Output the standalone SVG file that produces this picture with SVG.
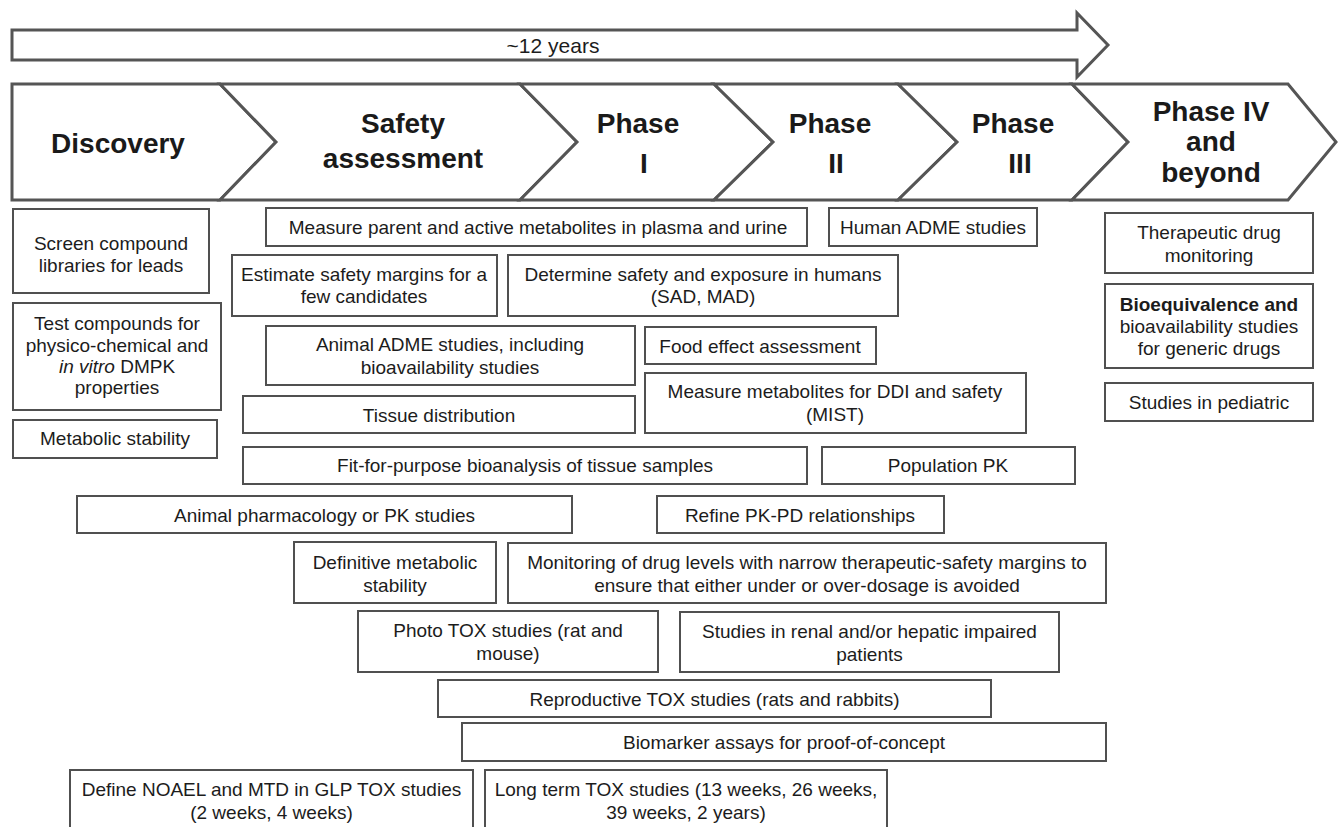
<svg xmlns="http://www.w3.org/2000/svg" width="1338" height="827" viewBox="0 0 1338 827">
<style>
.bg{fill:#ffffff}
.arrow{fill:#ffffff;stroke:#555555;stroke-width:3;stroke-linejoin:miter}
.chev{fill:#ffffff;stroke:#555555;stroke-width:3;stroke-linejoin:miter}
.box{fill:#ffffff;stroke:#505050;stroke-width:2}
.ph{font-family:"Liberation Sans",Arial,sans-serif;font-size:28px;font-weight:bold;fill:#1a1a1a;text-anchor:middle}
.t{font-family:"Liberation Sans",Arial,sans-serif;font-size:19px;fill:#1c1c1c;text-anchor:middle}
.yr{font-family:"Liberation Sans",Arial,sans-serif;font-size:21px;fill:#1c1c1c;text-anchor:middle}
</style>
<rect class="bg" x="0" y="0" width="1338" height="827"/>
<g id="timeline">
<polygon class="arrow" points="12,30 1077,30 1077,13 1108,45 1077,77 1077,60 12,60"/>
<text class="yr" x="553" y="53">~12 years</text>
</g>
<g id="connectors"></g>
<g id="phase-discovery">
<polygon class="chev" points="12,84 220,84 276,142 220,200 12,200"/>
<text class="ph" x="118" y="153">Discovery</text>
</g>
<g id="phase-safety">
<polygon class="chev" points="220,84 520,84 577,142 520,200 220,200 276,142"/>
<text class="ph" x="403" y="133">Safety</text>
<text class="ph" x="403" y="168">assessment</text>
</g>
<g id="phase-1">
<polygon class="chev" points="520,84 714,84 773,142 714,200 520,200 577,142"/>
<text class="ph" x="638" y="133">Phase</text>
<text class="ph" x="644" y="173">I</text>
</g>
<g id="phase-2">
<polygon class="chev" points="714,84 898,84 957,142 898,200 714,200 773,142"/>
<text class="ph" x="830" y="133">Phase</text>
<text class="ph" x="836" y="173">II</text>
</g>
<g id="phase-3">
<polygon class="chev" points="898,84 1072,84 1128,142 1072,200 898,200 957,142"/>
<text class="ph" x="1013" y="133">Phase</text>
<text class="ph" x="1020" y="173">III</text>
</g>
<g id="phase-4">
<polygon class="chev" points="1072,84 1288,84 1336,142 1288,200 1072,200 1128,142"/>
<text class="ph" x="1211" y="121">Phase IV</text>
<text class="ph" x="1211" y="151">and</text>
<text class="ph" x="1211" y="182">beyond</text>
</g>
<g id="screen">
<rect class="box" x="13" y="209" width="196" height="84"/>
<text class="t" x="111" y="250">Screen compound</text>
<text class="t" x="111" y="272">libraries for leads</text>
</g>
<g id="test">
<rect class="box" x="13" y="303" width="208" height="107"/>
<text class="t" x="117" y="330">Test compounds for</text>
<text class="t" x="117" y="351.5">physico-chemical and</text>
<text class="t" x="117" y="373"><tspan font-style="italic">in vitro</tspan> DMPK</text>
<text class="t" x="117" y="394">properties</text>
</g>
<g id="metabolic">
<rect class="box" x="13" y="420" width="204" height="38"/>
<text class="t" x="115" y="445">Metabolic stability</text>
</g>
<g id="measure-parent">
<rect class="box" x="266" y="208" width="541" height="38"/>
<text class="t" x="538" y="234">Measure parent and active metabolites in plasma and urine</text>
</g>
<g id="human-adme">
<rect class="box" x="829" y="208" width="208" height="38"/>
<text class="t" x="933" y="234">Human ADME studies</text>
</g>
<g id="estimate">
<rect class="box" x="232" y="255" width="265" height="61"/>
<text class="t" x="364" y="281">Estimate safety margins for a</text>
<text class="t" x="364" y="303">few candidates</text>
</g>
<g id="determine">
<rect class="box" x="508" y="255" width="390" height="61"/>
<text class="t" x="703" y="281">Determine safety and exposure in humans</text>
<text class="t" x="703" y="303">(SAD, MAD)</text>
</g>
<g id="animal-adme">
<rect class="box" x="266" y="326" width="369" height="59"/>
<text class="t" x="450" y="351">Animal ADME studies, including</text>
<text class="t" x="450" y="374">bioavailability studies</text>
</g>
<g id="food">
<rect class="box" x="645" y="327" width="231" height="37"/>
<text class="t" x="760" y="353">Food effect assessment</text>
</g>
<g id="tissue">
<rect class="box" x="243" y="396" width="392" height="37"/>
<text class="t" x="439" y="422">Tissue distribution</text>
</g>
<g id="mist">
<rect class="box" x="645" y="373" width="381" height="60"/>
<text class="t" x="835" y="398">Measure metabolites for DDI and safety</text>
<text class="t" x="835" y="421">(MIST)</text>
</g>
<g id="fit">
<rect class="box" x="243" y="447" width="564" height="37"/>
<text class="t" x="525" y="472">Fit-for-purpose bioanalysis of tissue samples</text>
</g>
<g id="poppk">
<rect class="box" x="822" y="447" width="253" height="37"/>
<text class="t" x="948" y="472">Population PK</text>
</g>
<g id="therapeutic">
<rect class="box" x="1105" y="213" width="208" height="60"/>
<text class="t" x="1209" y="239">Therapeutic drug</text>
<text class="t" x="1209" y="262">monitoring</text>
</g>
<g id="bioeq">
<rect class="box" x="1105" y="284" width="208" height="84"/>
<text class="t" x="1209" y="311" font-weight="bold">Bioequivalence and</text>
<text class="t" x="1209" y="333">bioavailability studies</text>
<text class="t" x="1209" y="355">for generic drugs</text>
</g>
<g id="pediatric">
<rect class="box" x="1105" y="383" width="208" height="38"/>
<text class="t" x="1209" y="409">Studies in pediatric</text>
</g>
<g id="animal-pharm">
<rect class="box" x="77" y="496" width="495" height="37"/>
<text class="t" x="324.5" y="522">Animal pharmacology or PK studies</text>
</g>
<g id="refine">
<rect class="box" x="657" y="496" width="287" height="37"/>
<text class="t" x="800" y="522">Refine PK-PD relationships</text>
</g>
<g id="definitive">
<rect class="box" x="294" y="542" width="202" height="61"/>
<text class="t" x="395" y="569">Definitive metabolic</text>
<text class="t" x="395" y="592">stability</text>
</g>
<g id="monitoring">
<rect class="box" x="508" y="543" width="598" height="60"/>
<text class="t" x="807" y="569">Monitoring of drug levels with narrow therapeutic-safety margins to</text>
<text class="t" x="807" y="592">ensure that either under or over-dosage is avoided</text>
</g>
<g id="photo">
<rect class="box" x="358" y="611" width="300" height="61"/>
<text class="t" x="508" y="637">Photo TOX studies (rat and</text>
<text class="t" x="508" y="660">mouse)</text>
</g>
<g id="renal">
<rect class="box" x="680" y="612" width="379" height="60"/>
<text class="t" x="869.5" y="638">Studies in renal and/or hepatic impaired</text>
<text class="t" x="869.5" y="661">patients</text>
</g>
<g id="reproductive">
<rect class="box" x="438" y="680" width="553" height="37"/>
<text class="t" x="714.5" y="706">Reproductive TOX studies (rats and rabbits)</text>
</g>
<g id="biomarker">
<rect class="box" x="462" y="723" width="644" height="38"/>
<text class="t" x="784" y="749">Biomarker assays for proof-of-concept</text>
</g>
<g id="noael">
<rect class="box" x="70" y="770" width="403" height="70"/>
<text class="t" x="271.5" y="796">Define NOAEL and MTD in GLP TOX studies</text>
<text class="t" x="271.5" y="819">(2 weeks, 4 weeks)</text>
</g>
<g id="longterm">
<rect class="box" x="485" y="770" width="402" height="70"/>
<text class="t" x="686" y="796">Long term TOX studies (13 weeks, 26 weeks,</text>
<text class="t" x="686" y="819">39 weeks, 2 years)</text>
</g>
</svg>
